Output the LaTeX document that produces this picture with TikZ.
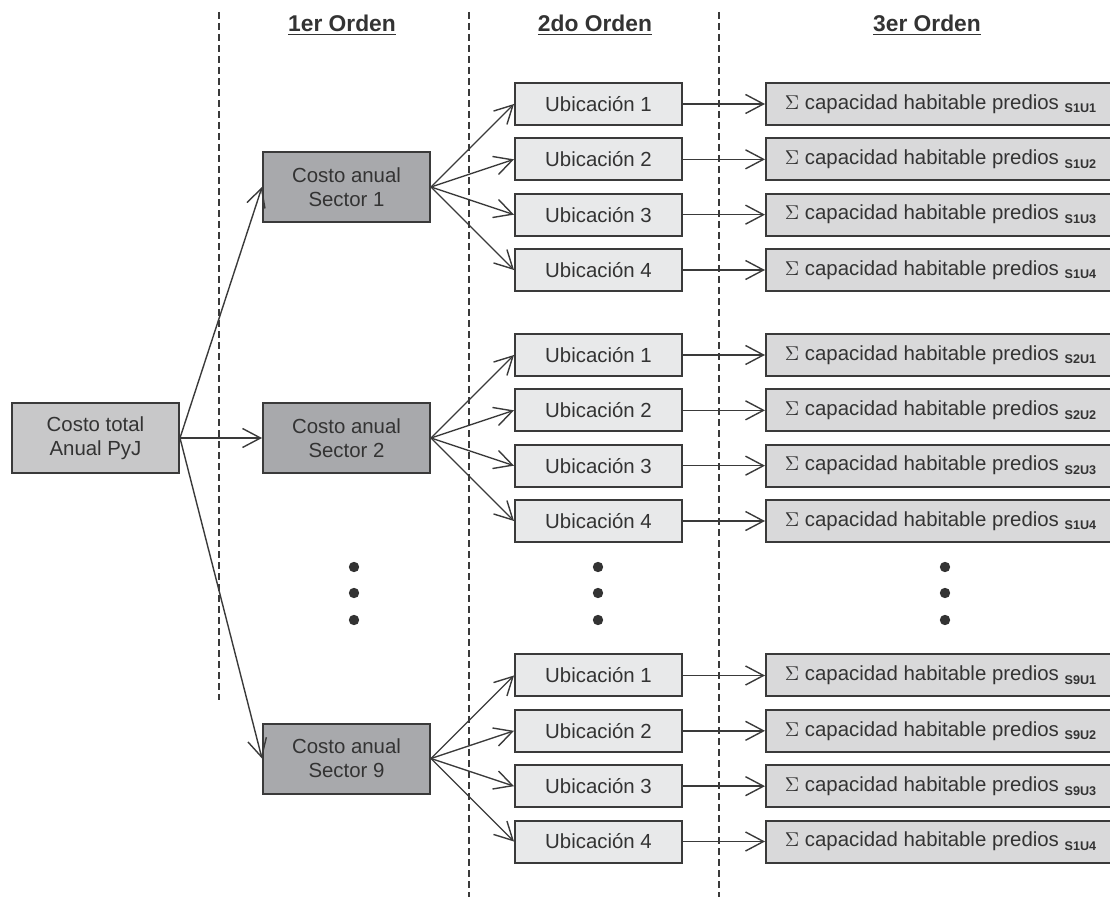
\documentclass[tikz,border=0pt]{standalone}
\usepackage{fontspec}
\setmainfont{Liberation Sans}
\usetikzlibrary{arrows.meta,positioning}
\definecolor{boxline}{HTML}{3A3A3A}
\definecolor{inkgray}{HTML}{333333}
\definecolor{totalfill}{HTML}{C8C8C9}
\definecolor{sectorfill}{HTML}{A8A9AC}
\definecolor{ubicfill}{HTML}{E8E9EA}
\definecolor{sumfill}{HTML}{D9D9DA}
\newcommand{\subtxt}[1]{\raisebox{-1.8pt}{\fontsize{6.3}{7}\selectfont\bfseries #1}}

\begin{document}
\begin{tikzpicture}[x=0.5pt,y=-0.5pt,>={Straight Barb[length=9pt,width=9.5pt]},
					align=center,node distance=41pt,text=inkgray,
					font=\fontsize{10.2}{12}\selectfont,
					main node/.style={draw=boxline,line width=1pt,inner sep=0pt},
					total node/.style={main node,fill=totalfill,minimum width=83.5pt,minimum height=35pt},
					sector node/.style={main node,fill=sectorfill,minimum width=83.5pt,minimum height=35pt},
					ubic node/.style={main node,fill=ubicfill,minimum width=83.5pt,minimum height=21pt},
					sum node/.style={main node,fill=sumfill,minimum width=174.5pt,minimum height=21pt},
					head/.style={font=\fontsize{11.4}{13}\selectfont\bfseries},
					divider/.style={draw=boxline,line width=0.6pt,dash pattern=on 3.5pt off 2pt},
					link/.style={->,draw=boxline,line width=0.7pt}]
					
					\useasboundingbox (0,0) rectangle (1110,899);
					
					\draw[divider] (219,12) -- (219,700);
					\draw[divider] (469,12) -- (469,897);
					\draw[divider] (719,12) -- (719,897);
					
					\node[head] (h1) at (342,25) {\underline{1er Orden}};
					\node[head] (h2) at (595,25) {\underline{2do Orden}};
					\node[head] (h3) at (927,25) {\underline{3er Orden}};
					
					\node[total node] (t) at (95.5,438) {Costo total\\Anual PyJ};
					\node[sector node] (s2) [right=41pt of t] {Costo anual\\Sector 2};
					\node[sector node] (s1) [above=89.5pt of s2] {Costo anual\\Sector 1};
					\node[sector node] (s9) [below=124.25pt of s2] {Costo anual\\Sector 9};
					
					\path
					(t.east) edge[link] (s1.west)
					(t.east) edge[link] (s2.west)
					(t.east) edge[link] (s9.west);
					
					\foreach \s in {1,2,9}{
					  \foreach \i in {1,2,3,4}{
					    \node[ubic node] (u\s\i) [right=41.5pt of s\s,yshift={-(\i-2.5)*27.67pt}] {Ubicación \i};
					    \node[sum node] (c\s\i) [right=41pt of u\s\i] {$\Sigma$ capacidad habitable predios \subtxt{\ifnum\i=4 S1U4\else S\s U\i\fi}};
					    \path (s\s.east) edge[link] (u\s\i.west)
					          (u\s\i.east) edge[link] (c\s\i.west);
					  }
					}
					
					% dots between the groups
					\foreach \x in {354,598,945}
					  \foreach \y in {567,593,620}
					    \fill[inkgray] (\x,\y) circle (2.6pt);
					    
				\end{tikzpicture}
\end{document}
